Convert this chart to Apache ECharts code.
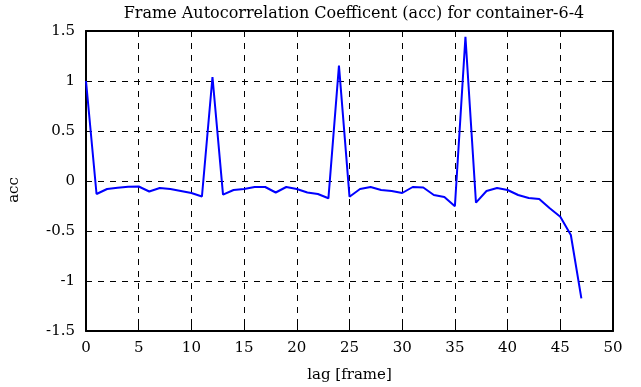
<!DOCTYPE html>
<html>
<head>
<meta charset="utf-8">
<script src="https://cdn.jsdelivr.net/npm/echarts@6/dist/echarts.min.js"></script>
<style>
html, body { margin: 0; padding: 0; background: #fff; }
#chart { width: 641px; height: 387px; }
</style>
</head>
<body>
<div id="chart"></div>
<script>
// acc values per lag
var lags = [];
for (var i = 0; i <= 47; i++) lags.push(i);
var accValues = [
    1.0, -0.13, -0.08, -0.067, -0.057, -0.055, -0.105, -0.07, -0.08, -0.1,
    -0.12, -0.155, 1.04, -0.137, -0.09, -0.08, -0.06, -0.06, -0.115, -0.06,
    -0.08, -0.115, -0.13, -0.173, 1.153, -0.157, -0.08, -0.06, -0.09, -0.1,
    -0.12, -0.06, -0.065, -0.14, -0.16, -0.253, 1.443, -0.217, -0.1, -0.07,
    -0.09, -0.14, -0.17, -0.18, -0.273, -0.357, -0.54, -1.173
];
var points = lags.map(function (l, i) { return [l, accValues[i]]; });

var font = 'DejaVu Serif';
var chart = echarts.init(document.getElementById('chart'));
var option = {
    animation: false,
    title: {
        text: 'Frame Autocorrelation Coefficent (acc) for container-6-4',
        left: 349,
        textAlign: 'center',
        top: 1,
        textStyle: { fontFamily: font, fontSize: 16, fontWeight: 'normal', color: '#000' }
    },
    grid: { left: 86, right: 28, top: 31, bottom: 56, containLabel: false, outerBoundsMode: 'none' },
    xAxis: [{
        type: 'value',
        min: 0, max: 50, interval: 5,
        name: 'lag [frame]',
        nameLocation: 'middle',
        nameGap: 37,
        nameTextStyle: { fontFamily: font, fontSize: 15, color: '#000' },
        axisLine: { onZero: false, lineStyle: { color: '#000', width: 2 } },
        axisTick: { inside: true, length: 6, lineStyle: { color: '#000' } },
        axisLabel: { fontFamily: font, fontSize: 15, color: '#000', margin: 10 },
        splitLine: { show: true, lineStyle: { color: '#000', type: [6, 6], width: 1 } }
    }, {
        type: 'value', position: 'top',
        min: 0, max: 50, interval: 5,
        axisLine: { onZero: false, lineStyle: { color: '#000', width: 2 } },
        axisTick: { inside: true, length: 6, lineStyle: { color: '#000' } },
        axisLabel: { show: false },
        splitLine: { show: false }
    }],
    yAxis: [{
        type: 'value',
        min: -1.5, max: 1.5, interval: 0.5,
        name: 'acc',
        nameLocation: 'middle',
        nameGap: 64,
        nameTextStyle: { fontFamily: font, fontSize: 15, color: '#000', padding: [0, 18, 0, 0] },
        axisLine: { onZero: false, lineStyle: { color: '#000', width: 2 } },
        axisTick: { inside: true, length: 6, lineStyle: { color: '#000' } },
        axisLabel: { fontFamily: font, fontSize: 15, color: '#000', margin: 11 },
        splitLine: { show: true, lineStyle: { color: '#000', type: [6, 6], width: 1 } }
    }, {
        type: 'value', position: 'right',
        min: -1.5, max: 1.5, interval: 0.5,
        axisLine: { show: true, onZero: false, lineStyle: { color: '#000', width: 2 } },
        axisTick: { show: true, inside: true, length: 6, lineStyle: { color: '#000' } },
        axisLabel: { show: false },
        splitLine: { show: false }
    }],
    series: [{
        type: 'line',
        data: points,
        showSymbol: false,
        lineStyle: { color: '#0000ff', width: 2 },
        itemStyle: { color: '#0000ff' }
    }]
};
chart.setOption(option);
</script>
</body>
</html>
